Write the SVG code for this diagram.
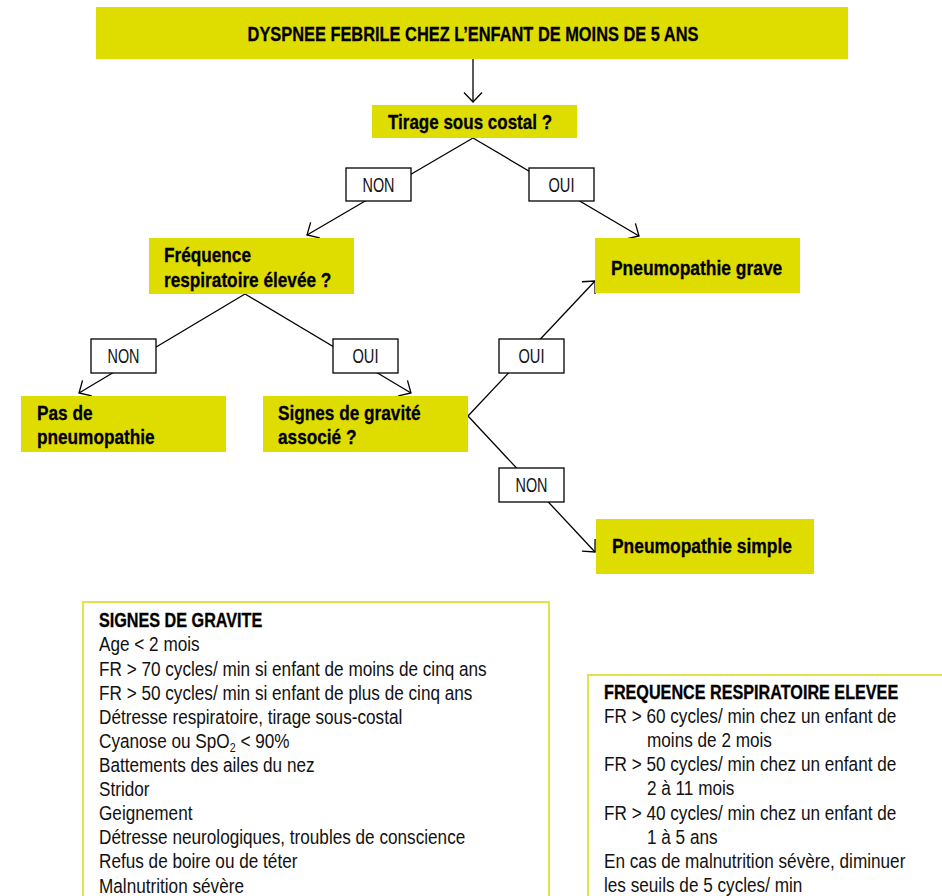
<svg xmlns="http://www.w3.org/2000/svg" width="942" height="896" viewBox="0 0 942 896">
  <style>
    .node { fill: #dfdc00; }
    .nt { font-family: "Liberation Sans", Arial, sans-serif; font-weight: bold; font-size: 21px; fill: #000; stroke: #000; stroke-width: 0.3; }
    .tt { font-size: 20px; }
    .lbl rect { fill: #fff; stroke: #000; stroke-width: 1.3; }
    .lbl text { font-family: "Liberation Sans", Arial, sans-serif; font-size: 19.5px; fill: #111; text-anchor: middle; }
    .conn line { stroke: #000; stroke-width: 1.3; fill: none; }
    .panel { fill: #fff; stroke: #e2e24a; stroke-width: 2; }
    .bt { font-family: "Liberation Sans", Arial, sans-serif; font-size: 19.3px; fill: #111; }
    .bh { font-family: "Liberation Sans", Arial, sans-serif; font-weight: bold; font-size: 19.5px; fill: #000; stroke: #000; stroke-width: 0.3; }
  </style>
  <defs>
    <marker id="arrow" markerUnits="userSpaceOnUse" markerWidth="24" markerHeight="24" refX="12" refY="12" orient="auto" viewBox="0 0 24 24">
      <path d="M2.5,3 L12,12 L2.5,21" fill="none" stroke="#000" stroke-width="1.3"/>
    </marker>
  </defs>

  <rect width="942" height="896" fill="#fff"/>

  <!-- connectors -->
  <g id="connectors" class="conn">
    <line x1="473" y1="59" x2="473" y2="102" marker-end="url(#arrow)"/>
    <line x1="473" y1="138" x2="307" y2="235" marker-end="url(#arrow)"/>
    <line x1="473" y1="138" x2="639" y2="236" marker-end="url(#arrow)"/>
    <line x1="245" y1="294" x2="79" y2="393" marker-end="url(#arrow)"/>
    <line x1="245" y1="294" x2="411" y2="393" marker-end="url(#arrow)"/>
    <line x1="468" y1="416" x2="595" y2="281" marker-end="url(#arrow)"/>
    <line x1="468" y1="416" x2="595" y2="552" marker-end="url(#arrow)"/>
  </g>

  <!-- edge labels -->
  <g id="labels">
    <g class="lbl" id="lbl-tirage-non"><rect x="346" y="168" width="65" height="33"/><text x="378.5" y="192" textLength="32" lengthAdjust="spacingAndGlyphs">NON</text></g>
    <g class="lbl" id="lbl-tirage-oui"><rect x="529" y="168" width="65" height="33"/><text x="561.5" y="192" textLength="26" lengthAdjust="spacingAndGlyphs">OUI</text></g>
    <g class="lbl" id="lbl-freq-non"><rect x="91" y="339" width="65" height="34"/><text x="123.5" y="363" textLength="32" lengthAdjust="spacingAndGlyphs">NON</text></g>
    <g class="lbl" id="lbl-freq-oui"><rect x="333" y="339" width="65" height="34"/><text x="365.5" y="363" textLength="26" lengthAdjust="spacingAndGlyphs">OUI</text></g>
    <g class="lbl" id="lbl-signes-oui"><rect x="499" y="339" width="65" height="34"/><text x="531.5" y="363" textLength="26" lengthAdjust="spacingAndGlyphs">OUI</text></g>
    <g class="lbl" id="lbl-signes-non"><rect x="499" y="468" width="65" height="34"/><text x="531.5" y="492" textLength="32" lengthAdjust="spacingAndGlyphs">NON</text></g>
  </g>

  <!-- nodes (condensed lettering via horizontal scale) -->
  <g id="n-dyspnee">
    <rect class="node" x="96" y="7" width="752" height="52"/>
    <text class="nt tt" transform="translate(473,41) scale(0.82,1)" text-anchor="middle">DYSPNEE FEBRILE CHEZ L’ENFANT DE MOINS DE 5 ANS</text>
  </g>
  <g id="n-tirage">
    <rect class="node" x="372" y="105" width="205" height="33"/>
    <text class="nt" transform="translate(388,129) scale(0.81,1)">Tirage sous costal ?</text>
  </g>
  <g id="n-frequence">
    <rect class="node" x="149" y="238" width="205" height="56"/>
    <text class="nt" transform="translate(164,262) scale(0.82,1)">Fréquence</text>
    <text class="nt" transform="translate(164,287) scale(0.82,1)">respiratoire élevée ?</text>
  </g>
  <g id="n-grave">
    <rect class="node" x="595" y="238" width="205" height="55"/>
    <text class="nt" transform="translate(611,275) scale(0.83,1)">Pneumopathie grave</text>
  </g>
  <g id="n-pas">
    <rect class="node" x="21" y="396" width="205" height="56"/>
    <text class="nt" transform="translate(37,420) scale(0.82,1)">Pas de</text>
    <text class="nt" transform="translate(37,444) scale(0.82,1)">pneumopathie</text>
  </g>
  <g id="n-signes">
    <rect class="node" x="263" y="396" width="205" height="56"/>
    <text class="nt" transform="translate(278,420) scale(0.82,1)">Signes de gravité</text>
    <text class="nt" transform="translate(278,444) scale(0.82,1)">associé ?</text>
  </g>
  <g id="n-simple">
    <rect class="node" x="596" y="519" width="218" height="55"/>
    <text class="nt" transform="translate(612,553) scale(0.83,1)">Pneumopathie simple</text>
  </g>

  <!-- legend panels -->
  <g id="panel-gravite">
    <rect class="panel" x="83" y="602" width="466" height="320"/>
    <text class="bh" transform="translate(99,627.3) scale(0.83,1)">SIGNES DE GRAVITE</text>
    <g transform="translate(99,0) scale(0.89,1)">
      <text class="bt">
        <tspan x="0" y="651.5">Age &lt; 2 mois</tspan>
        <tspan x="0" y="675.8">FR &gt; 70 cycles/ min si enfant de moins de cinq ans</tspan>
        <tspan x="0" y="700">FR &gt; 50 cycles/ min si enfant de plus de cinq ans</tspan>
        <tspan x="0" y="724.2">Détresse respiratoire, tirage sous-costal</tspan>
        <tspan x="0" y="748.3">Cyanose ou SpO<tspan font-size="12" dy="4">2</tspan><tspan dy="-4"> &lt; 90%</tspan></tspan>
        <tspan x="0" y="772">Battements des ailes du nez</tspan>
        <tspan x="0" y="796">Stridor</tspan>
        <tspan x="0" y="820">Geignement</tspan>
        <tspan x="0" y="844.3">Détresse neurologiques, troubles de conscience</tspan>
        <tspan x="0" y="868.5">Refus de boire ou de téter</tspan>
        <tspan x="0" y="892.7">Malnutrition sévère</tspan>
      </text>
    </g>
  </g>
  <g id="panel-frequence">
    <rect class="panel" x="588" y="675" width="360" height="260"/>
    <text class="bh" transform="translate(604,699) scale(0.83,1)">FREQUENCE RESPIRATOIRE ELEVEE</text>
    <g transform="translate(604,0) scale(0.89,1)">
      <text class="bt">
        <tspan x="0" y="723">FR &gt; 60 cycles/ min chez un enfant de</tspan>
        <tspan x="48.3" y="747.2">moins de 2 mois</tspan>
        <tspan x="0" y="771.3">FR &gt; 50 cycles/ min chez un enfant de</tspan>
        <tspan x="48.3" y="795.5">2 à 11 mois</tspan>
        <tspan x="0" y="819.7">FR &gt; 40 cycles/ min chez un enfant de</tspan>
        <tspan x="48.3" y="843.8">1 à 5 ans</tspan>
        <tspan x="0" y="868">En cas de malnutrition sévère, diminuer</tspan>
        <tspan x="0" y="892.2">les seuils de 5 cycles/ min</tspan>
      </text>
    </g>
  </g>
</svg>
